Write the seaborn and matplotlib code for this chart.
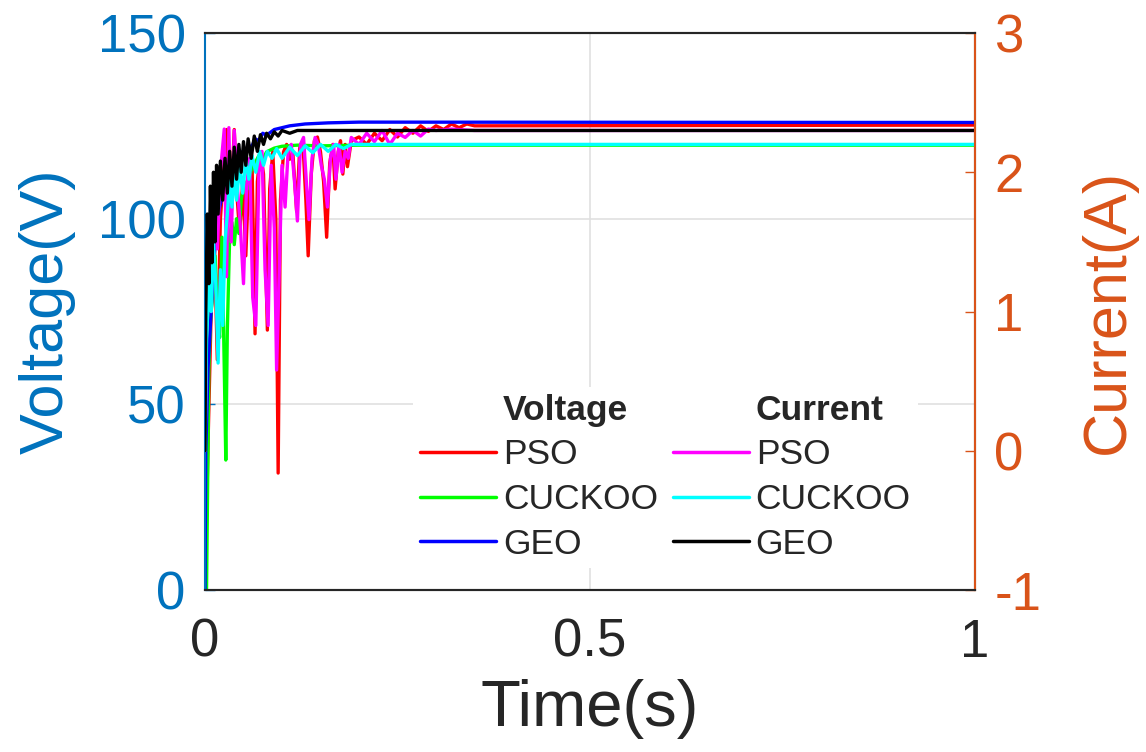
import numpy as np
import pandas as pd
import matplotlib
matplotlib.use("Agg")
import matplotlib.pyplot as plt
import seaborn as sns
from matplotlib.lines import Line2D

# ---------------- data ----------------
t_v_pso = [0.000, 0.004, 0.008, 0.012, 0.016, 0.020, 0.024, 0.028, 0.031, 0.035, 0.038, 0.041,
           0.045, 0.049, 0.053, 0.057, 0.061, 0.065, 0.068, 0.072, 0.076, 0.081, 0.084, 0.088,
           0.092, 0.095, 0.098, 0.102, 0.106, 0.110, 0.114, 0.119, 0.123, 0.127, 0.131, 0.134,
           0.138, 0.142, 0.146, 0.150, 0.154, 0.158, 0.162, 0.166, 0.169, 0.173, 0.176, 0.179,
           0.182, 0.185, 0.19, 0.20, 0.21, 0.22, 0.23, 0.24, 0.25, 0.26, 0.27, 0.28, 0.29, 0.30,
           0.31, 0.32, 0.33, 0.34, 0.35, 1.0]
v_pso = [0, 40, 75, 95, 62, 100, 112, 124, 105, 110, 124, 108,
         96, 110, 90, 112, 116, 69, 110, 118, 112, 70, 108, 118,
         100, 31.5, 105, 118, 120, 116, 118, 102, 119, 121, 105, 90,
         112, 121, 122, 118, 110, 95, 115, 120, 108, 118, 121, 112,
         120, 114, 121, 122, 120, 123, 121, 124, 122, 124.5, 123, 125, 123.5, 125,
         124, 125.5, 124.5, 125.5, 125, 125.2]

t_v_cuckoo = [0.000, 0.002, 0.003, 0.005, 0.007, 0.010, 0.013, 0.016, 0.019, 0.022, 0.025,
              0.027, 0.029, 0.032, 0.035, 0.038, 0.041, 0.044, 0.047, 0.051, 0.055, 0.060,
              0.065, 0.070, 0.075, 0.080, 0.090, 0.10, 0.12, 0.15, 0.20, 1.0]
v_cuckoo = [0, 0, 20, 60, 72, 80, 90, 75, 68, 95, 60,
            35, 70, 95, 99, 93, 100, 96, 105, 110, 108, 113,
            115, 117, 116, 118, 119, 119.5, 119.8, 119.6, 119.8, 119.8]

t_v_geo = [0.000, 0.001, 0.004, 0.008, 0.012, 0.016, 0.020, 0.024, 0.028, 0.032, 0.036,
           0.040, 0.044, 0.048, 0.052, 0.056, 0.060, 0.065, 0.070, 0.075, 0.080, 0.090,
           0.10, 0.11, 0.13, 0.16, 0.20, 1.0]
v_geo = [0, 37, 60, 75, 90, 100, 104, 108, 110, 113, 112,
         116, 115, 118, 117, 120, 119, 121.5, 121, 123, 122.5, 124,
         124.5, 125, 125.5, 125.8, 126, 125.9]

t_i_pso = [0.000, 0.003, 0.008, 0.012, 0.016, 0.020, 0.025, 0.028, 0.031, 0.034, 0.038, 0.042,
           0.046, 0.050, 0.054, 0.058, 0.062, 0.066, 0.070, 0.074, 0.078, 0.082, 0.086, 0.090,
           0.093, 0.096, 0.100, 0.104, 0.108, 0.112, 0.116, 0.120, 0.124, 0.128, 0.132, 0.135,
           0.139, 0.143, 0.147, 0.151, 0.155, 0.159, 0.163, 0.167, 0.170, 0.174, 0.178, 0.182,
           0.186, 0.19, 0.20, 0.21, 0.22, 0.23, 0.24, 0.25, 0.26, 0.27, 0.28, 0.29, 0.30,
           0.32, 0.35, 1.0]
i_pso = [0, 1.3, 1.0, 1.9, 1.45, 2.0, 2.31, 1.25, 2.32, 1.5, 2.3, 1.9,
         1.6, 1.2, 1.9, 2.1, 1.1, 0.9, 2.0, 2.15, 1.3, 0.9, 2.05, 1.6,
         0.58, 1.2, 2.05, 1.75, 2.15, 2.2, 1.95, 1.65, 2.2, 2.25, 1.9, 1.66,
         2.1, 2.25, 2.2, 2.05, 1.95, 1.75, 2.1, 2.2, 1.95, 2.2, 2.0, 2.15,
         2.1, 2.25, 2.2, 2.28, 2.22, 2.3, 2.2, 2.28, 2.25, 2.3, 2.26, 2.31, 2.3,
         2.31, 2.3, 2.3]

t_i_cuckoo = [0.000, 0.002, 0.005, 0.008, 0.011, 0.014, 0.017, 0.020, 0.023, 0.026, 0.029,
              0.032, 0.035, 0.038, 0.041, 0.045, 0.049, 0.053, 0.057, 0.061, 0.066, 0.071,
              0.076, 0.081, 0.087, 0.093, 0.10, 0.11, 0.12, 0.13, 0.14, 0.15, 0.16, 0.17,
              0.18, 0.19, 0.20, 1.0]
i_cuckoo = [0, 0.8, 1.2, 1.0, 1.5, 1.2, 0.63, 1.3, 0.9, 1.5, 1.7,
            1.95, 1.75, 2.0, 1.8, 2.05, 1.85, 2.1, 1.95, 2.12, 2.0, 2.15,
            2.05, 2.15, 2.1, 2.17, 2.1, 2.18, 2.12, 2.19, 2.14, 2.2, 2.15, 2.2,
            2.17, 2.2, 2.2, 2.2]

t_i_geo = [0.000, 0.001, 0.003, 0.005, 0.007, 0.009, 0.011, 0.013, 0.015, 0.017, 0.020,
           0.023, 0.026, 0.029, 0.032, 0.035, 0.038, 0.041, 0.044, 0.047, 0.050, 0.053,
           0.056, 0.060, 0.064, 0.068, 0.072, 0.076, 0.080, 0.085, 0.090, 0.095, 0.10,
           0.11, 0.12, 1.0]
i_geo = [0, 1.0, 1.7, 1.2, 1.9, 1.35, 2.0, 1.5, 2.05, 1.7, 2.08,
         1.8, 2.1, 1.85, 2.15, 1.9, 2.18, 1.95, 2.2, 2.0, 2.22, 2.05,
         2.24, 2.1, 2.26, 2.15, 2.27, 2.2, 2.28, 2.24, 2.29, 2.26, 2.3,
         2.28, 2.3, 2.3]

methods = ["PSO", "CUCKOO", "GEO"]
x_ticks = [0, 0.5, 1]
v_ticks = [0, 50, 100, 150]
i_ticks = [-1, 0, 1, 2, 3]

# ---------------- style ----------------
sns.set_theme(style="white")
plt.rcParams["font.family"] = ["Liberation Sans", "DejaVu Sans"]

C_V = "#0072BD"
C_I = "#D95319"
v_colors = ["#FF0000", "#00FF00", "#0000FF"]
i_colors = ["#FF00FF", "#00FFFF", "#000000"]

fig = plt.figure(figsize=(11.46, 7.52), dpi=100)
ax = fig.add_axes([205 / 1146, 1 - 590 / 752, 770 / 1146, 557 / 752])
ax2 = ax.twinx()

v_series = [(t_v_pso, v_pso), (t_v_cuckoo, v_cuckoo), (t_v_geo, v_geo)]
i_series = [(t_i_pso, i_pso), (t_i_cuckoo, i_cuckoo), (t_i_geo, i_geo)]

for (tt, vv), c in zip(v_series, v_colors):
    df = pd.DataFrame({"t": tt, "v": vv})
    sns.lineplot(data=df, x="t", y="v", ax=ax, color=c, lw=2.4,
                 estimator=None, sort=False, legend=False)
for (tt, ii), c in zip(i_series, i_colors):
    df = pd.DataFrame({"t": tt, "i": ii})
    sns.lineplot(data=df, x="t", y="i", ax=ax2, color=c, lw=2.4,
                 estimator=None, sort=False, legend=False)

ax.set_xlim(0, 1)
ax.set_ylim(0, 150)
ax2.set_ylim(-1, 3)
ax.set_xticks(x_ticks)
ax.set_xticklabels(["0", "0.5", "1"])
ax.set_yticks(v_ticks)
ax.set_yticklabels([str(v) for v in v_ticks])
ax2.set_yticks(i_ticks)
ax2.set_yticklabels([str(v) for v in i_ticks])

ax.grid(True, color="#E0E0E0", lw=1.2)
ax2.grid(False)

ax.tick_params(axis="x", direction="in", length=7, width=1, pad=20,
               labelsize=38, colors="#262626", labelcolor="#262626")
ax.tick_params(axis="y", direction="in", length=7, width=1, pad=14,
               labelsize=38, colors=C_V, labelcolor=C_V)
ax2.tick_params(axis="y", direction="in", length=7, width=1, pad=14,
                labelsize=38, colors=C_I, labelcolor=C_I)

ax.set_xlabel("Time(s)", fontsize=47, color="#262626", labelpad=8)
ax.set_ylabel("Voltage(V)", fontsize=44, color=C_V, labelpad=16)
ax2.set_ylabel("Current(A)", fontsize=44, color=C_I, labelpad=28)

for a in (ax, ax2):
    for s in a.spines.values():
        s.set_linewidth(1.5)
        s.set_color("#262626")
ax.spines["left"].set_color(C_V)
ax2.spines["right"].set_color(C_I)
ax2.spines["left"].set_visible(False)

# legend: two columns with bold headers
blank = Line2D([], [], color="none")
handles = [blank] + [Line2D([], [], color=c, lw=2.5) for c in v_colors] + \
          [blank] + [Line2D([], [], color=c, lw=2.5) for c in i_colors]
labels = ["Voltage"] + methods + ["Current"] + methods
leg = ax2.legend(handles, labels, ncol=2, loc="upper left",
                 bbox_to_anchor=(0.247, 0.397), frameon=True, fontsize=25.5,
                 handlelength=2.15, handletextpad=0.2, columnspacing=0.4,
                 labelspacing=0.33, borderpad=0.2, fancybox=False)
leg.get_frame().set_edgecolor("none")
leg.get_frame().set_facecolor("white")
leg.get_frame().set_alpha(1)
for txt in leg.get_texts():
    if txt.get_text() in ("Voltage", "Current"):
        txt.set_fontweight("bold")

fig.savefig("out.png", dpi=100, facecolor="white")
